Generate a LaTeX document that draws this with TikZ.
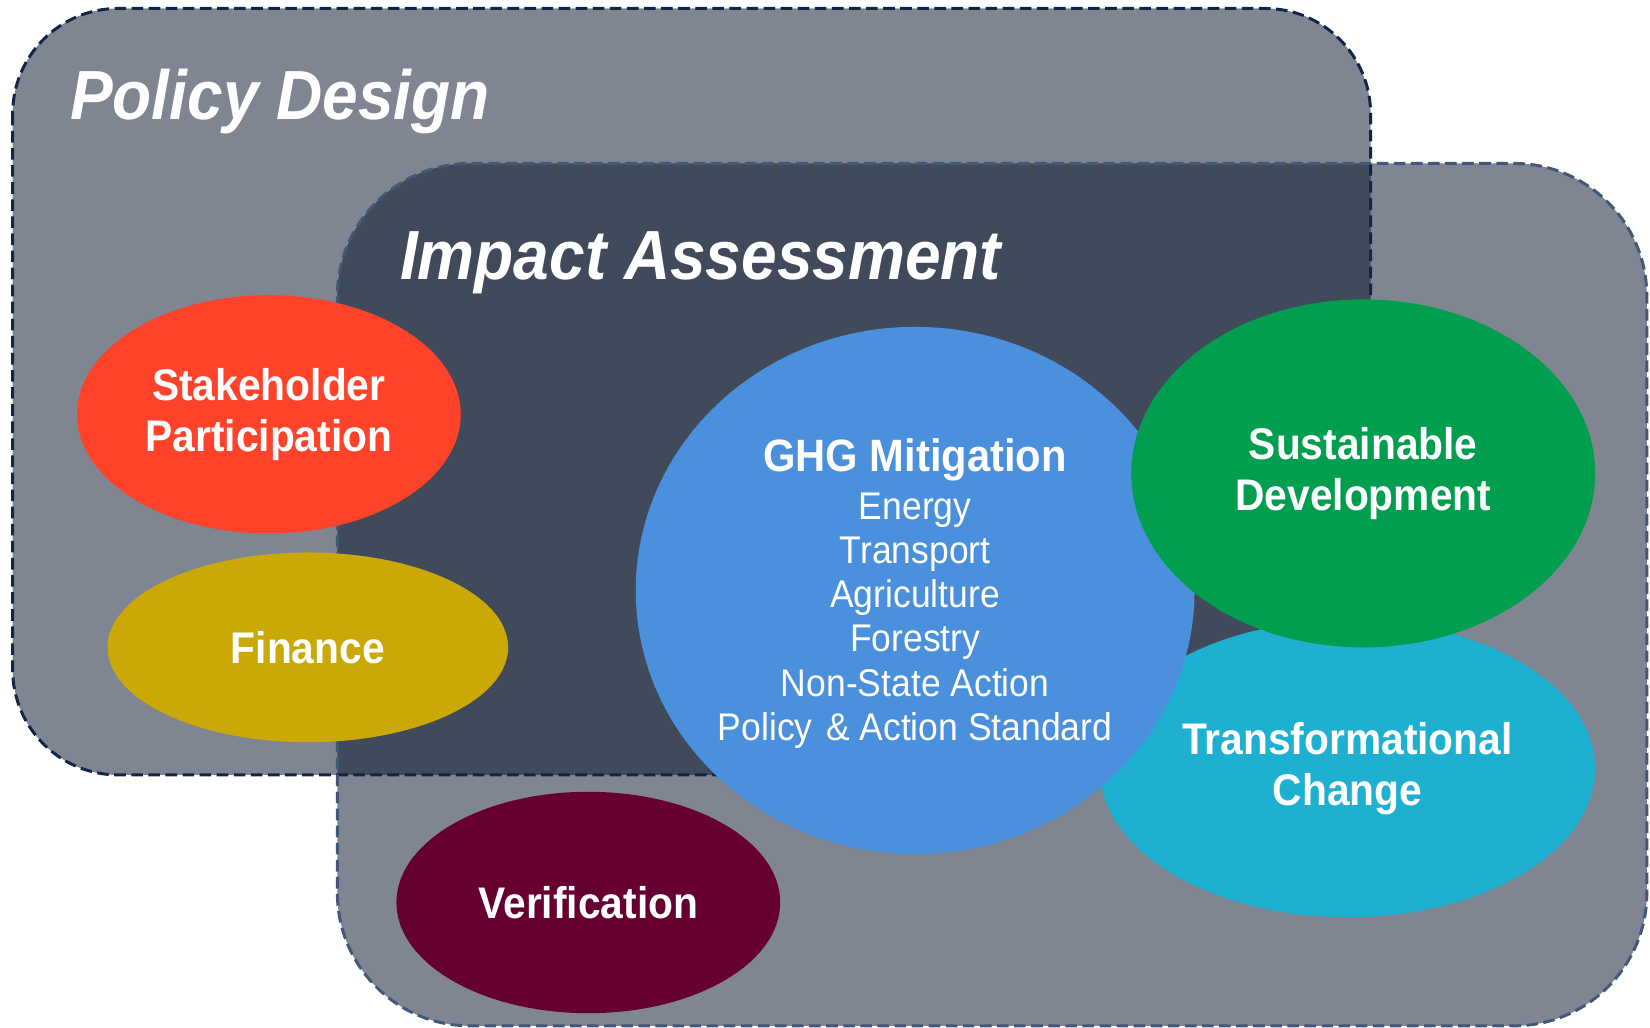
\documentclass[tikz,border=0pt]{standalone}
\usepackage{fontspec}
\setmainfont{Liberation Sans}[FakeStretch=0.92]
\usetikzlibrary{shapes.geometric}

\definecolor{boxgray}{RGB}{127,133,145}
\definecolor{boxdark}{RGB}{64,74,91}
\definecolor{edgenavy}{RGB}{15,38,72}
\definecolor{edgeblue}{RGB}{66,88,120}
\definecolor{stakered}{RGB}{255,67,42}
\definecolor{financegold}{RGB}{202,169,6}
\definecolor{ghgblue}{RGB}{74,144,220}
\definecolor{sdgreen}{RGB}{0,158,78}
\definecolor{tccyan}{RGB}{30,176,208}
\definecolor{verimaroon}{RGB}{101,0,49}

\begin{document}
\begin{tikzpicture}[x=0.5pt,y=-0.5pt,
  bubble/.style={ellipse, inner sep=0pt, text=white, align=center,
    font=\fontsize{21}{24}\selectfont\bfseries},
  areatitle/.style={anchor=base west, inner sep=0pt, text=white,
    font=\fontsize{33}{36}\selectfont\bfseries\itshape},
  frame/.style={line width=1.4pt, dash pattern=on 5.5pt off 2.6pt}]
 \useasboundingbox (0,0) rectangle (1565,975);

 %% the two areas, darker where they overlap
 \fill [boxgray, rounded corners=50pt] (12,8) rectangle (1300,735);
 \fill [boxgray, rounded corners=63pt] (320,155) rectangle (1562,973);
 \begin{scope}
  \clip [rounded corners=50pt] (12,8) rectangle (1300,735);
  \fill [boxdark, rounded corners=63pt] (320,155) rectangle (1562,973);
 \end{scope}
 \draw [frame, edgenavy, rounded corners=50pt] (12,8) rectangle (1300,735);
 \draw [frame, edgeblue, rounded corners=63pt] (320,155) rectangle (1562,973);

 \node [areatitle] (policy) at (66,113) {Policy Design};
 \node [areatitle] (impact) at (379,265) {Impact Assessment};

 %% bubbles
 \node [bubble, fill=stakered, minimum width=182pt, minimum height=113pt] (stake) at (255,393) {Stakeholder\\Participation};
 \node [bubble, fill=financegold, minimum width=190pt, minimum height=90pt] (finance) at (292,614) {Finance};
 \node [bubble, fill=tccyan, minimum width=235pt, minimum height=141pt] (transform) at (1278,729) {Transformational\\Change};
 \node [bubble, fill=ghgblue, minimum width=265pt, minimum height=250pt] (ghg) at (868,560) {};
 \node [bubble, fill=sdgreen, minimum width=220pt, minimum height=165pt] (sustain) at (1293,449) {Sustainable\\Development};
 \node [bubble, fill=verimaroon, minimum width=182pt, minimum height=105pt] (verify) at (558,856) {Verification};

 \node [text=white, align=center, inner sep=0pt, font=\fontsize{18.3}{21}\selectfont] (ghgtext) at (868,563)
   {{\bfseries\fontsize{21.5}{24}\selectfont GHG Mitigation}\\[1.5pt]
    Energy\\ Transport\\ Agriculture\\ Forestry\\ Non-State Action\\
    Policy\hspace{0.35em}\& Action Standard};
\end{tikzpicture}
\end{document}
